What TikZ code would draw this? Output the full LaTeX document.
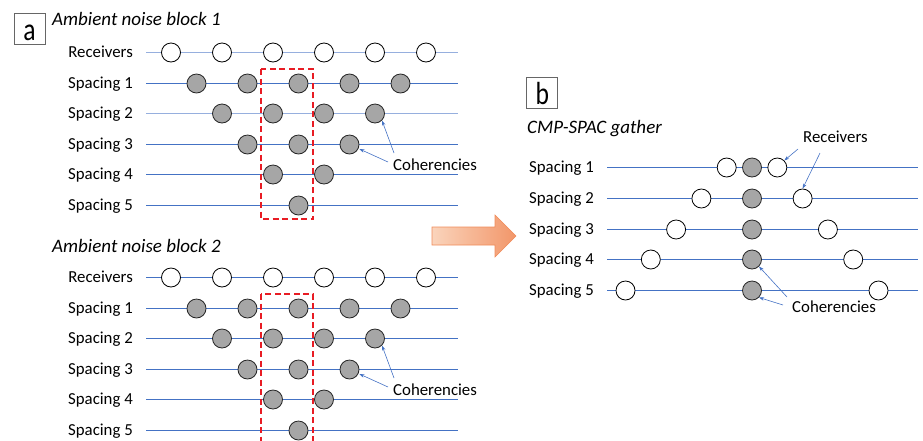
\documentclass[tikz,border=0pt]{standalone}
\usepackage{fontspec}
\setmainfont{Carlito}
\usetikzlibrary{arrows.meta}
\definecolor{lineblue}{RGB}{68,114,196}
\definecolor{paleblue}{RGB}{150,175,222}
\definecolor{dotgray}{RGB}{166,166,166}
\definecolor{boxred}{RGB}{232,28,36}
\definecolor{arrowlight}{RGB}{250,212,188}
\definecolor{arrowdark}{RGB}{242,150,105}
\definecolor{arrowedge}{RGB}{240,140,90}
\newcommand{\panelletter}[1]{\scalebox{0.8}[1]{\fontsize{32}{32}\selectfont #1}}
\tikzset{
  x=1pt, y=-1pt,
  rec/.style={circle,draw=black,fill=white,line width=0.8pt,minimum size=19pt,inner sep=0pt},
  cohdot/.style={circle,draw=black!85,fill=dotgray,line width=0.8pt,minimum size=19pt,inner sep=0pt},
  rowlabel/.style={anchor=base east,font=\fontsize{16.8}{18}\selectfont,inner sep=0pt},
  plainlabel/.style={anchor=base west,font=\fontsize{16.8}{18}\selectfont,inner sep=0pt},
  titlelabel/.style={anchor=base west,font=\fontsize{19}{21}\selectfont\itshape,inner sep=0pt},
  panelbox/.style={draw=black!60,line width=0.8pt,minimum width=31pt,minimum height=31pt,inner sep=0pt,text height=23pt,text depth=0pt},
  rowline/.style={draw=lineblue,line width=1pt},
  paleline/.style={draw=paleblue,line width=1pt},
  redbox/.style={draw=boxred,line width=2.2pt,dash pattern=on 6pt off 3.5pt},
  pointer/.style={draw=lineblue,line width=0.6pt,-{Stealth[length=5pt,width=3.5pt]}},
}
\begin{document}
\begin{tikzpicture}
\useasboundingbox (0,0) rectangle (923,440);
% ---------------- panel a ----------------
\node[panelbox] (boxa) at (29.5,28.5) {\panelletter{a}};
\foreach \blk/\dy in {1/0,2/225}{
  \begin{scope}[shift={(0,\dy)}]
    \node[titlelabel] (title\blk) at (52,{\blk==1 ? 25.7 : 27.3}) {Ambient noise block \blk};
    \foreach \k/\name in {0/Receivers,1/Spacing 1,2/Spacing 2,3/Spacing 3,4/Spacing 4,5/Spacing 5}{
      \pgfmathsetmacro{\yy}{round(52+30.6*\k)+0.5}
      \node[rowlabel] (lab\blk\k) at (133,\yy+5) {\name};
      \coordinate (L\blk\k) at (146,\yy);
      \coordinate (R\blk\k) at (458,\yy);
    }
    \ifnum\blk=1
      \draw[paleline] (L10) -- (R10);
      \draw[rowline] (L11) -- (R11);
      \draw[paleline] (L12) -- (R12);
      \draw[rowline] (L13) -- (R13);
      \draw[rowline] (L14) -- (R14);
      \draw[rowline] (L15) -- (R15);
    \else
      \foreach \k in {0,...,5}{\draw[rowline] (L2\k) -- (R2\k);}
    \fi
    \foreach \i in {0,...,5}{
      \node[rec] (r\blk-0-\i) at ({171+51*\i},52.5) {};
    }
    \foreach \k in {1,...,5}{
      \pgfmathtruncatemacro{\last}{5-\k}
      \pgfmathsetmacro{\yy}{round(52+30.6*\k)+0.5}
      \foreach \i in {0,...,\last}{
        \node[cohdot] (c\blk-\k-\i) at ({171+25.5*\k+51*\i},\yy) {};
      }
    }
    \draw[redbox] (261,69) rectangle (313,{\blk==1 ? 219 : 250});
    \node[plainlabel] (coh\blk) at (393,170.7) {Coherencies};
    \coordinate (ca\blk) at (394,153);
    \coordinate (cb\blk) at (388,162);
    \draw[pointer] (ca\blk) -- (c\blk-2-3.south east);
    \draw[pointer] (cb\blk) -- (c\blk-3-2.east |- 0,149);
  \end{scope}
}
% ---------------- big arrow ----------------
\shade[left color=arrowlight,right color=arrowdark,draw=arrowedge,line width=0.6pt]
  (432,227) -- (495,227) -- (495,215) -- (516,236) -- (495,257) -- (495,245) -- (432,245) -- cycle;
% ---------------- panel b ----------------
\node[panelbox] (boxb) at (542.3,92.8) {\panelletter{b}};
\node[titlelabel] (titleb) at (527,133.3) {CMP-SPAC gather};
\foreach \k in {1,...,5}{
  \pgfmathsetmacro{\yy}{round(167+30.75*(\k-1))+0.5}
  \node[rowlabel] (blab\k) at (594,\yy+4.5) {Spacing \k};
  \coordinate (bL\k) at (607,\yy);
  \coordinate (bR\k) at (918,\yy);
  \draw[rowline] (bL\k) -- (bR\k);
  \node[rec] (bl\k) at ({752-25.3*\k},\yy) {};
  \node[rec] (br\k) at ({752+25.3*\k},\yy) {};
  \node[cohdot] (bc\k) at (752,\yy) {};
}
\node[plainlabel] (brec) at (803,142.7) {Receivers};
\coordinate (bra) at (798,149);
\coordinate (brb) at (820,153);
\draw[pointer] (bra) -- (br1.north east);
\draw[pointer] (brb) -- (br2.north);
\node[plainlabel] (bcoh) at (792,312.7) {Coherencies};
\coordinate (bca) at (787,297);
\coordinate (bcb) at (783,305);
\draw[pointer] (bca) -- (bc4.south east);
\draw[pointer] (bcb) -- (bc5.south east);
\end{tikzpicture}
\end{document}
